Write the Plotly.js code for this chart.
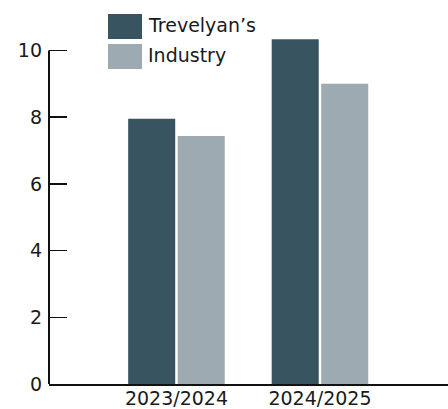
<!DOCTYPE html>
<html><head><meta charset="utf-8">
<script src="https://cdn.plot.ly/plotly-3.0.1.min.js"></script>
<style>html,body{margin:0;padding:0;background:#fff;}#chart{width:448px;height:409px;}</style>
</head><body><div id="chart"></div>
<script>
const categories = ["2023/2024", "2024/2025"];
const seriesNames = ["Trevelyan\u2019s", "Industry"];
const trevelyans = [7.95, 10.34];
const industry = [7.44, 9.0];
const yTicks = [0, 2, 4, 6, 8, 10];

const colors = ["#385461", "#9DAAB1"];
const font = "DejaVu Sans, sans-serif";

const traces = [
  {type: "bar", x: categories, y: trevelyans, name: seriesNames[0], marker: {color: colors[0]}, hoverinfo: "none"},
  {type: "bar", x: categories, y: industry, name: seriesNames[1], marker: {color: colors[1]}, hoverinfo: "none"}
];

const layout = {
  width: 448, height: 409,
  margin: {l: 49, r: 0, t: 34, b: 25},
  paper_bgcolor: "#fff", plot_bgcolor: "#fff",
  showlegend: false,
  barmode: "group", bargap: 0.31, bargroupgap: 0.05,
  font: {family: font, size: 19, color: "#1a1a1a"},
  xaxis: {range: [-0.888, 1.892], showline: true, linecolor: "#111", linewidth: 1.5,
          ticks: "", showgrid: false, zeroline: false, tickfont: {size: 19}, ticklabelstandoff: -3},
  yaxis: {range: [0, 10.495], tickvals: yTicks, showline: false,
          ticks: "inside", ticklen: 18, tickwidth: 1.5, tickcolor: "#111",
          showgrid: false, zeroline: false, tickfont: {size: 19}, ticklabelstandoff: 6},
  shapes: [
    {type: "line", xref: "paper", yref: "y", x0: 0, x1: 0, y0: 0, y1: yTicks[yTicks.length - 1], line: {color: "#111", width: 2}},
    {type: "rect", xref: "paper", yref: "paper", x0: 0.1479, x1: 0.2331, y0: 0.9857, y1: 1.0571, fillcolor: colors[0], line: {width: 0}},
    {type: "rect", xref: "paper", yref: "paper", x0: 0.1479, x1: 0.2331, y0: 0.9, y1: 0.9714, fillcolor: colors[1], line: {width: 0}}
  ],
  annotations: [
    {xref: "paper", yref: "paper", x: 0.2431, y: 1.0257, xanchor: "left", yanchor: "middle", text: seriesNames[0], showarrow: false, font: {size: 19}},
    {xref: "paper", yref: "paper", x: 0.2431, y: 0.94, xanchor: "left", yanchor: "middle", text: seriesNames[1], showarrow: false, font: {size: 19}}
  ]
};
Plotly.newPlot("chart", traces, layout, {staticPlot: true, displayModeBar: false});
</script></body></html>
